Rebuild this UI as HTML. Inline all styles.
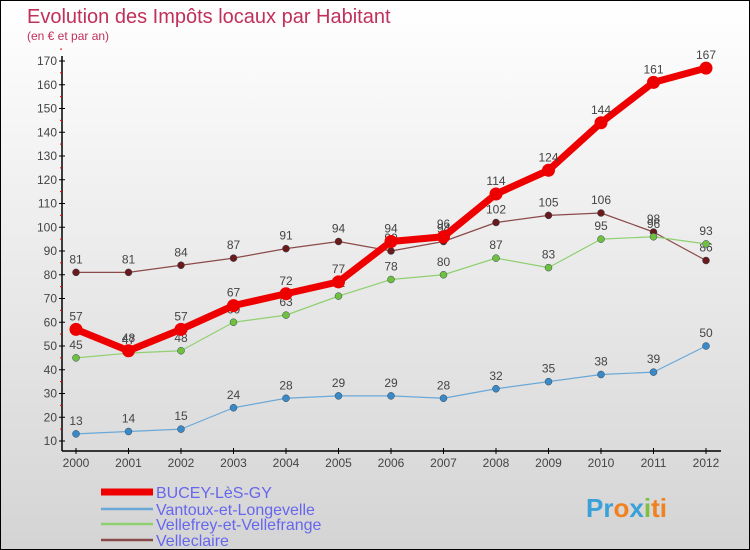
<!DOCTYPE html>
<html><head><meta charset="utf-8"><style>
body{margin:0}
#c{width:750px;height:550px;position:relative;box-sizing:border-box;border:1px solid #000;background:linear-gradient(#ffffff,#d4d4d4);font-family:"Liberation Sans",sans-serif;overflow:hidden}
</style></head><body>
<div id="c">
<svg id="s" width="750" height="550" style="position:absolute;left:0;top:0">
<text x="26" y="22" font-size="20" fill="#c0305a">Evolution des Impôts locaux par Habitant</text>
<text x="26" y="39" font-size="12" fill="#c0305a">(en € et par an)</text>
<g id="axes"></g><g id="series"></g><g id="legend"></g>
<text x="585" y="516" font-size="26" font-weight="bold" fill="#3aa0d8">Pr<tspan fill="#f08020">o</tspan><tspan fill="#3aa0d8">x</tspan><tspan fill="#80c040">i</tspan><tspan fill="#f08020">ti</tspan></text>
</svg>
</div>
<script>
const years=["2000","2001","2002","2003","2004","2005","2006","2007","2008","2009","2010","2011","2012"];
const yTicks=[10,20,30,40,50,60,70,80,90,100,110,120,130,140,150,160,170];
const bucey=[57,48,57,67,72,77,94,96,114,124,144,161,167];
const vantoux=[13,14,15,24,28,29,29,28,32,35,38,39,50];
const vellefrey=[45,47,48,60,63,71,78,80,87,83,95,96,93];
const velleclaire=[81,81,84,87,91,94,90,94,102,105,106,98,86];
const seriesNames=["BUCEY-LèS-GY","Vantoux-et-Longevelle","Vellefrey-et-Vellefrange","Velleclaire"];
const NS="http://www.w3.org/2000/svg";
const X=i=>75+i*52.5, Y=v=>440-(v-10)*2.375;
function mk(tag,at,parent){const e=document.createElementNS(NS,tag);for(const k in at)e.setAttribute(k,at[k]);parent.appendChild(e);return e;}
const ax=document.getElementById('axes');
let l=mk('line',{x1:61,y1:55,x2:61,y2:450,stroke:'#000','stroke-width':1.5},ax);


l=mk('line',{x1:61,y1:450,x2:720,y2:450,stroke:'#000','stroke-width':1.5},ax);


yTicks.forEach(v=>{mk('line',{x1:58,y1:Y(v),x2:64,y2:Y(v),stroke:'#000'},ax);
 mk('line',{x1:59,y1:Y(v)-11.9,x2:61,y2:Y(v)-11.9,stroke:'#e00'},ax);
 const t=mk('text',{x:56,y:Y(v)+4,'font-size':12,fill:'#444','text-anchor':'end'},ax);t.textContent=v;
 
 });
years.forEach((y,i)=>{mk('line',{x1:X(i),y1:447,x2:X(i),y2:453,stroke:'#000'},ax);
 const t=mk('text',{x:X(i),y:466,'font-size':12,fill:'#444','text-anchor':'middle'},ax);t.textContent=y;
 
 });
const sg=document.getElementById('series');
const defs=[[velleclaire,'#8b4a4a','#6a1a1a',1.2,3.5,'velleclaire'],[vellefrey,'#90d070','#70c040',1.2,3.5,'vellefrey'],[vantoux,'#6aa8d8','#3a8ac8',1.2,3.5,'vantoux'],[bucey,'#ee0000','#ee0000',7,6.5,'bucey']];
defs.forEach(([d,c,mc,w,r,n])=>{
 const p=mk('polyline',{points:d.map((v,i)=>X(i)+','+Y(v)).join(' '),fill:'none',stroke:c,'stroke-width':w,'stroke-linejoin':'round'},sg);
 
 
 d.forEach((v,i)=>{const m=mk('circle',{cx:X(i),cy:Y(v),r:r,fill:mc,stroke:n=='bucey'?'none':'#345','stroke-width':0.5},sg);
  
  
  const t=mk('text',{x:X(i),y:Y(v)-9,'font-size':12,fill:'#444','text-anchor':'middle'},sg);t.textContent=v;
  
  });
});
const lg=document.getElementById('legend');
const lc=['#ee0000','#6aa8d8','#90d070','#8b4a4a'],lw=[7,2.5,2.5,2.5],ly=[491,508,523,539];
seriesNames.forEach((s,i)=>{const ln=mk('line',{x1:100,y1:ly[i],x2:152,y2:ly[i],stroke:lc[i],'stroke-width':lw[i]},lg);
 
 
 const t=mk('text',{x:155,y:ly[i]+6,'font-size':16,fill:'#6666ee'},lg);t.textContent=s;
 
 });
</script>
</body></html>
